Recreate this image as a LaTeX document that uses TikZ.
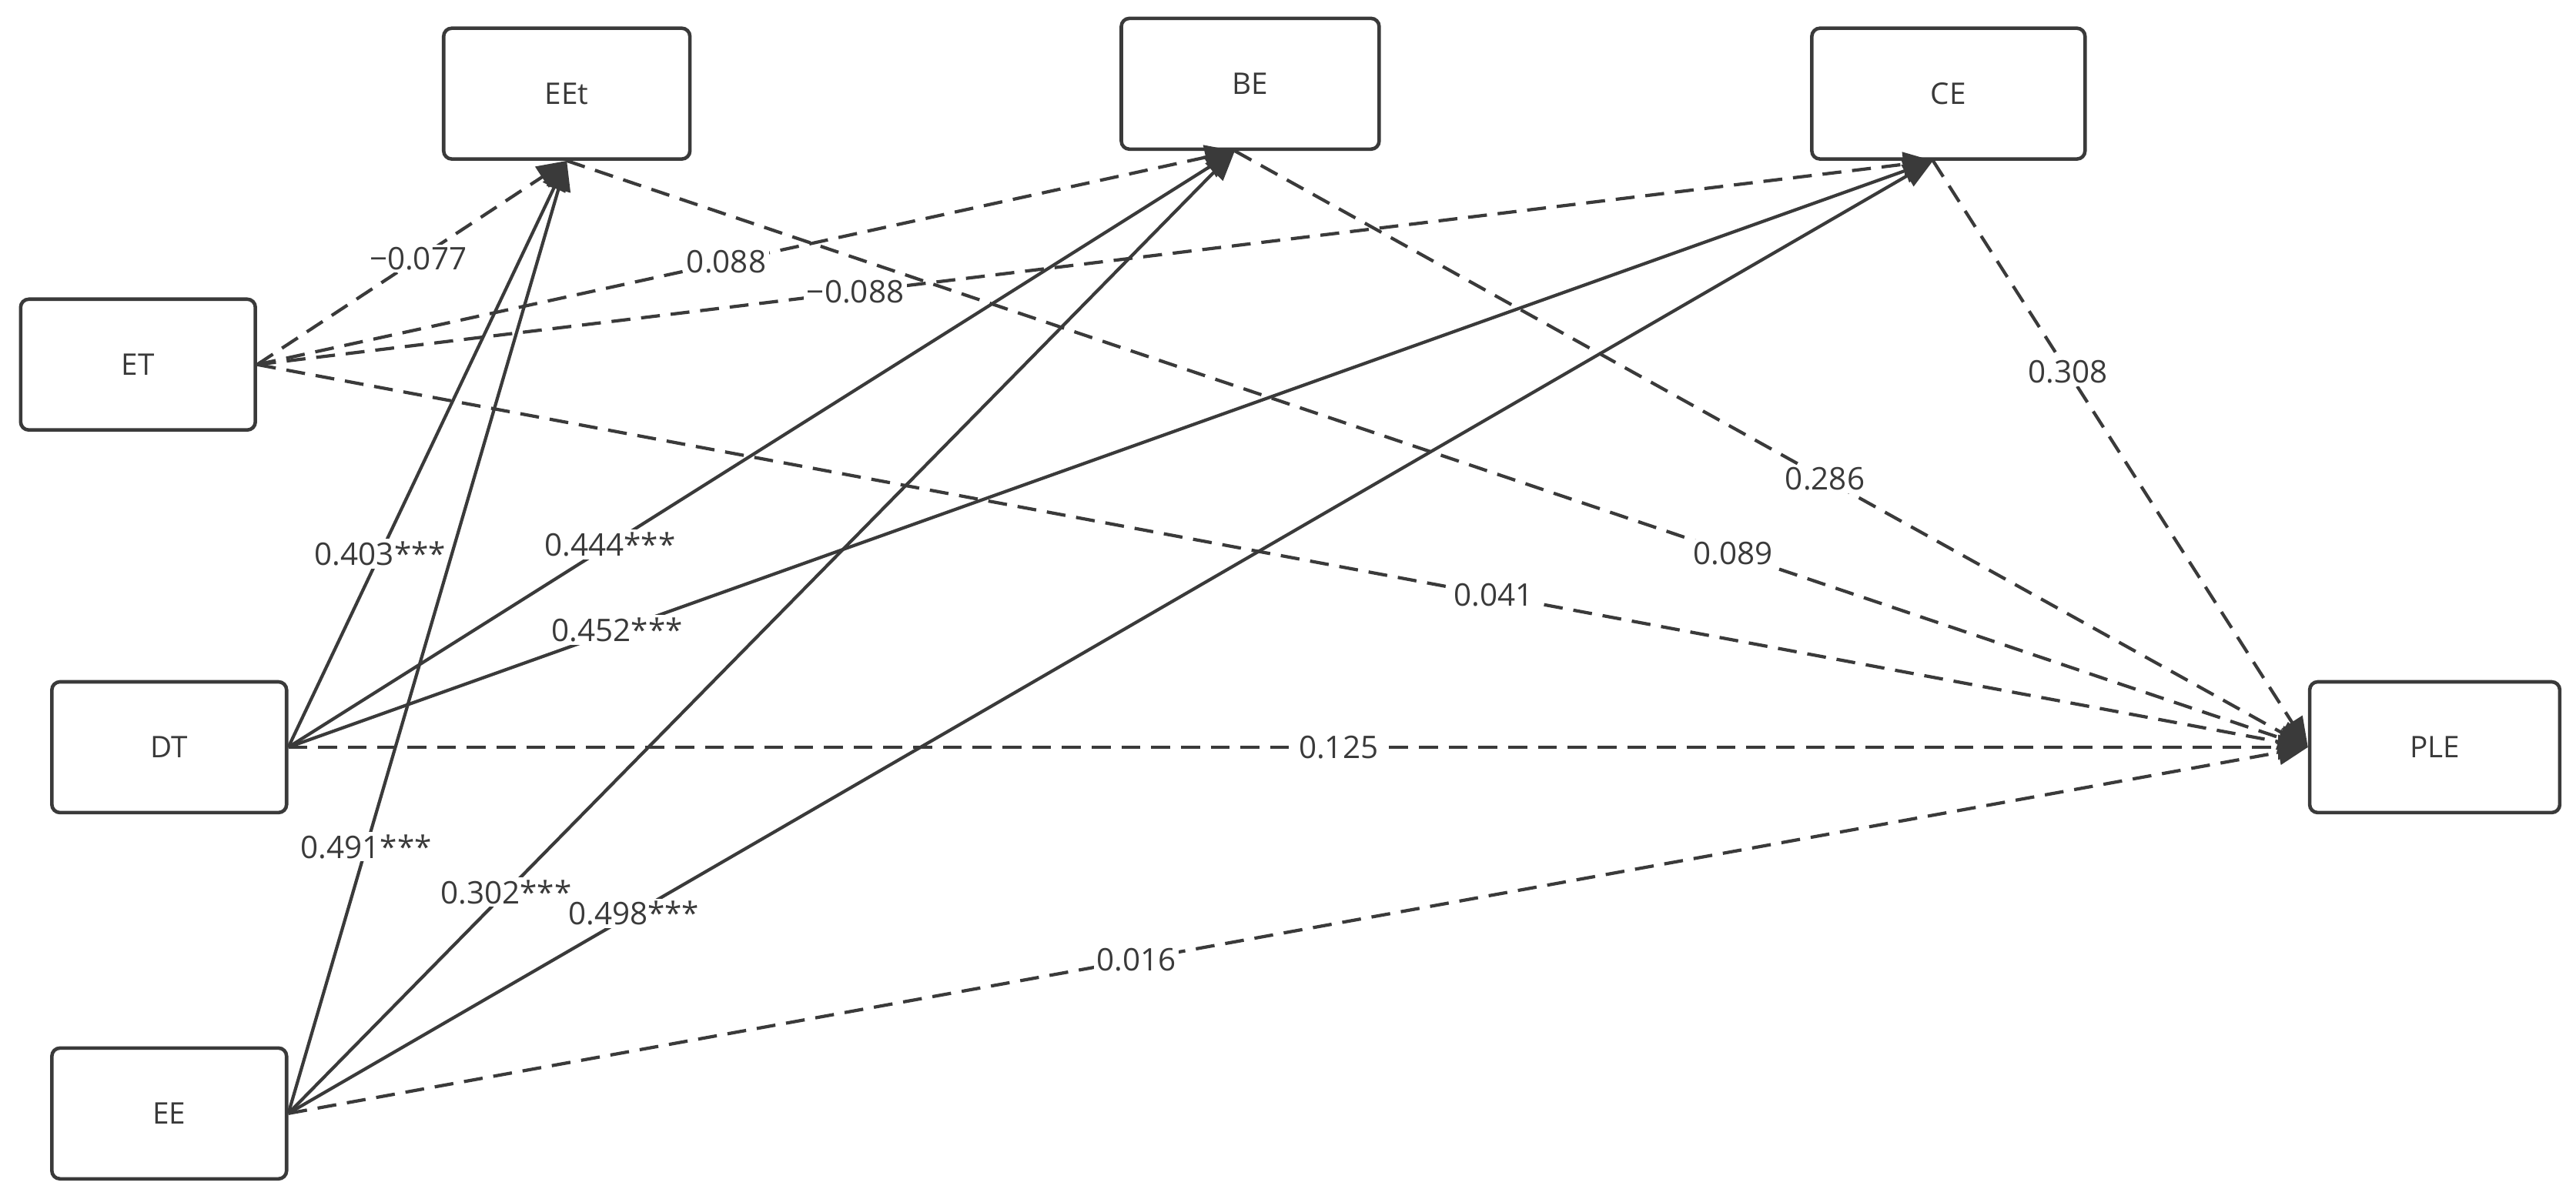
\documentclass[tikz,border=0pt]{standalone}
\usepackage{fontspec}
\setmainfont{Open Sans}
\usetikzlibrary{arrows.meta}
\definecolor{ln}{HTML}{3A3A3A}
\begin{document}
\begin{tikzpicture}[x=0.02134cm,y=-0.02134cm,
 box/.style={draw=ln,line width=1.3pt,rounded corners=3pt,fill=white,font=\fontsize{11}{13}\selectfont,text=ln},
 sol/.style={draw=ln,line width=1.2pt,-{Triangle[length=11pt,width=9pt]}},
 dsh/.style={sol,dash pattern=on 7pt off 4pt},
 lab/.style={fill=white,inner sep=1pt,font=\fontsize{11.5}{13}\selectfont,text=ln}]
\useasboundingbox (0,0) rectangle (1568,730);
\node[box,minimum width=3.2cm,minimum height=1.7cm] (EEt) at (345,57) {EEt};
\node[box,minimum width=3.35cm,minimum height=1.7cm] (BE) at (761,51) {BE};
\node[box,minimum width=3.55cm,minimum height=1.7cm] (CE) at (1186,57) {CE};
\node[box,minimum width=3.05cm,minimum height=1.7cm] (ET) at (84,222) {ET};
\node[box,minimum width=3.05cm,minimum height=1.7cm] (DT) at (103,455) {DT};
\node[box,minimum width=3.05cm,minimum height=1.7cm] (EE) at (103,678) {EE};
\node[box,minimum width=3.25cm,minimum height=1.7cm] (PLE) at (1482,455) {PLE};
\coordinate (eetb) at (EEt.south);
\coordinate (beb) at ([xshift=-0.2cm]BE.south);
\coordinate (ceb) at ([xshift=-0.2cm]CE.south);
\coordinate (plew) at (PLE.west);
% ET
\draw[dsh] (ET.east) -- node[lab,pos=.52]{−0.077} (eetb);
\draw[dsh] (ET.east) -- node[lab,pos=.48]{0.088} (beb);
\draw[dsh] (ET.east) -- node[lab,pos=.357]{−0.088} (ceb);
\draw[dsh] (ET.east) -- node[lab,pos=.603]{0.041} (plew);
% DT
\draw[sol] (DT.east) -- node[lab,pos=.33]{0.403***} (eetb);
\draw[sol] (DT.east) -- node[lab,pos=.34]{0.444***} (beb);
\draw[sol] (DT.east) -- node[lab,pos=.2]{0.452***} (ceb);
\draw[dsh] (DT.east) -- node[lab,pos=.52]{0.125} (plew);
% EE
\draw[sol] (EE.east) -- node[lab,pos=.28]{0.491***} (eetb);
\draw[sol] (EE.east) -- node[lab,pos=.23]{0.302***} (beb);
\draw[sol] (EE.east) -- node[lab,pos=.21]{0.498***} (ceb);
\draw[dsh] (EE.east) -- node[lab,pos=.42]{0.016} (plew);
% mediators
\draw[dsh] (eetb) -- node[lab,pos=.67]{0.089} (plew);
\draw[dsh] (beb) -- node[lab,pos=.55]{0.286} (plew);
\draw[dsh] (ceb) -- node[lab,pos=.36]{0.308} (plew);
\end{tikzpicture}
\end{document}
